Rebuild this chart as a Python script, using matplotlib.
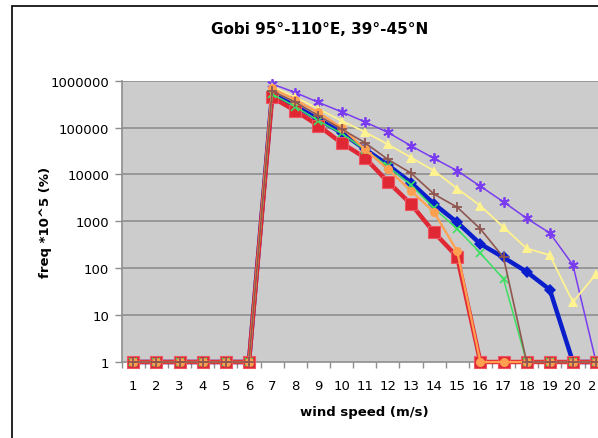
import matplotlib
matplotlib.use("Agg")
import matplotlib.pyplot as plt
from matplotlib.patches import Rectangle
from matplotlib.ticker import FixedLocator, NullFormatter

# ---- data ----
categories = list(range(1, 22))
purple = [1, 1, 1, 1, 1, 1, 850000, 560000, 345000, 217000, 133000, 79000, 41000, 22000, 12000, 5600, 2600, 1160, 565, 117, 1]
yellow = [1, 1, 1, 1, 1, 1, 750000, 450000, 250000, 140000, 81000, 44000, 23000, 12000, 5000, 2150, 750, 265, 190, 19, 75]
brown = [1, 1, 1, 1, 1, 1, 600000, 350000, 180000, 93000, 48000, 21000, 10700, 3800, 2000, 690, 170, 1, 1, 1, 1]
blue = [1, 1, 1, 1, 1, 1, 520000, 290000, 150000, 78000, 35000, 16000, 6700, 2350, 950, 330, 170, 84, 35, 1, 1]
green = [1, 1, 1, 1, 1, 1, 520000, 280000, 140000, 75000, 34000, 15000, 6000, 1900, 690, 210, 59, 1, 1, 1, 1]
orange = [1, 1, 1, 1, 1, 1, 690000, 390000, 210000, 100000, 35000, 13000, 4500, 1560, 230, 1, 1, 1, 1, 1, 1]
red = [1, 1, 1, 1, 1, 1, 440000, 230000, 110000, 47000, 23000, 7000, 2350, 580, 175, 1, 1, 1, 1, 1, 1]
ytick_vals = [1, 10, 100, 1000, 10000, 100000, 1000000]
ytick_labels = ["1", "10", "100", "1000", "10000", "100000", "1000000"]
title = "Gobi 95°-110°E, 39°-45°N"
xlabel = "wind speed (m/s)"
ylabel = "freq *10^5 (%)"

W, H = 598, 439
fig = plt.figure(figsize=(W / 100, H / 100), dpi=100)
plt.rcParams['font.family'] = ['DejaVu Sans']

# outer chart frame (clipped at right/bottom)
fig.patches.append(Rectangle((12 / W, -0.1), 2.0, 1 - 7 / H + 0.1, transform=fig.transFigure,
                             fill=False, edgecolor='black', linewidth=1.2))

left_px, top_px, bot_px = 121.7, 81.7, 363.0
step = 23.14
ncat_axis = 22
ax = fig.add_axes([left_px / W, (H - bot_px) / H, ncat_axis * step / W, (bot_px - top_px) / H])
ax.set_facecolor('#CCCCCC')
ax.set_yscale('log')
ax.set_ylim(1, 1e6)
ax.set_xlim(0.5, ncat_axis + 0.5)

for v in ytick_vals[1:]:
    ax.axhline(v, color='#8E8E8E', linewidth=1.2, zorder=1)

series = [
    (purple, '#7A3CF0', (6, 2, 0), 7.5, 1.1, dict(markeredgewidth=1.3)),
    (yellow, '#FFF290', '^', 7.5, 1.3, dict(markeredgewidth=0)),
    (blue, '#0A1ECC', 'D', 6.5, 3.2, dict(markeredgewidth=0)),
    (red, '#E02835', 's', 8.5, 3.2, dict(markeredgecolor='#EE5560', markeredgewidth=0.8)),
    (green, '#3CE060', 'x', 5.5, 1.1, dict(markeredgewidth=1.2)),
    (orange, '#FFA050', 'o', 6.5, 1.6, dict(markeredgewidth=0)),
    (brown, '#8E5650', '+', 7.5, 1.2, dict(markeredgewidth=1.3)),
]
for i, (vals, col, mk, ms, lw, kw) in enumerate(series):
    ax.plot(categories, vals, color=col, marker=mk, markersize=ms, linewidth=lw,
            markerfacecolor=col, zorder=3 + i, clip_on=False, **kw)

for s in ['top', 'right']:
    ax.spines[s].set_visible(False)
for s in ['left', 'bottom']:
    ax.spines[s].set_color('#8E8E8E')
    ax.spines[s].set_linewidth(1.2)

ax.yaxis.set_major_locator(FixedLocator(ytick_vals))
ax.set_yticklabels(ytick_labels)
ax.yaxis.set_minor_locator(FixedLocator([]))
ax.tick_params(axis='y', which='major', length=5, width=1, color='#8E8E8E', pad=4,
               labelsize=9.5)

ax.set_xticks(categories)
ax.set_xticklabels([str(c) for c in categories])
ax.xaxis.set_minor_locator(FixedLocator([c + 0.5 for c in range(0, ncat_axis + 1)]))
ax.xaxis.set_minor_formatter(NullFormatter())
ax.tick_params(axis='x', which='major', length=0, pad=12, labelsize=9.5)
ax.tick_params(axis='x', which='minor', length=4, width=1, color='#8E8E8E')

fig.text(320 / W, 1 - 29 / H, title, ha='center', va='center', fontsize=11, fontweight='bold')
fig.text(364 / W, 1 - 413 / H, xlabel, ha='center', va='center', fontsize=9.5, fontweight='bold')
fig.text(45 / W, 1 - 222 / H, ylabel, ha='center', va='center', rotation=90, fontsize=9.5,
         fontweight='bold')

fig.savefig('out.png', dpi=100)
